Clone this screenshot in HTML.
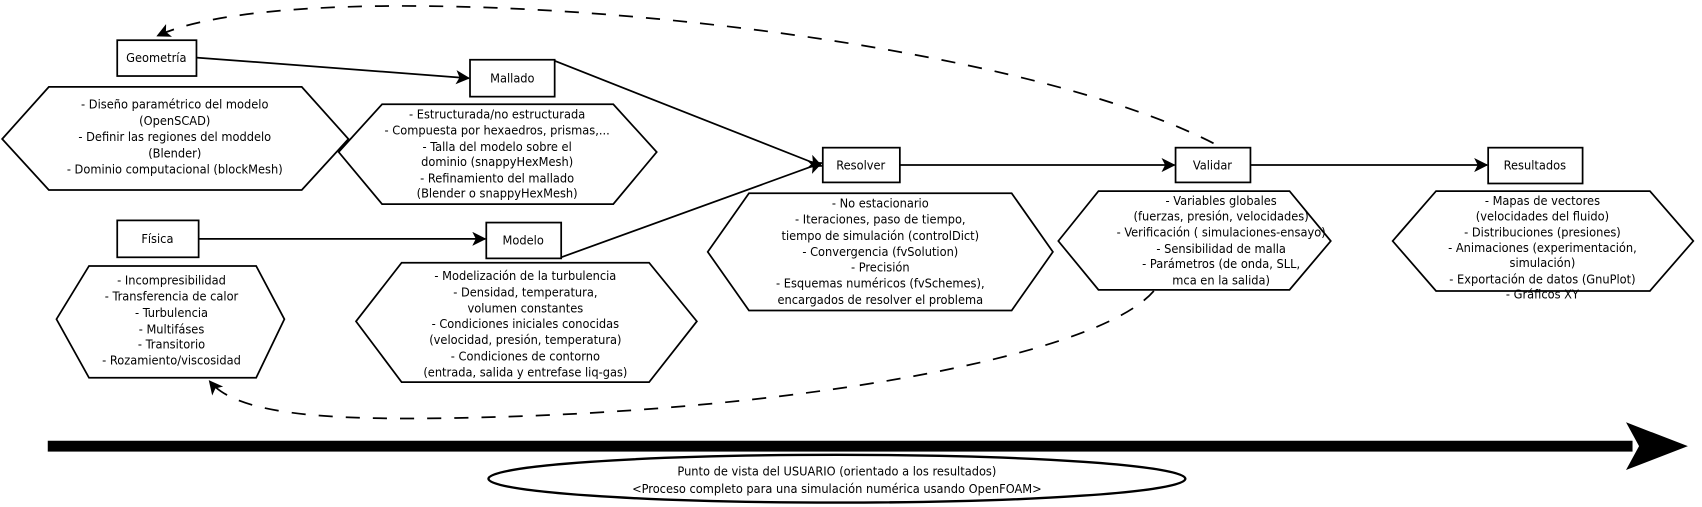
<!DOCTYPE html>
<html><head><meta charset="utf-8"><style>
html,body{margin:0;padding:0;background:#fff;}
svg{display:block;}
text{font-family:"DejaVu Sans Condensed","DejaVu Sans","Liberation Sans",sans-serif;font-size:11.7px;fill:#000;text-anchor:middle;}
</style></head><body>
<svg width="1702" height="507" viewBox="0 0 1568 467" xmlns="http://www.w3.org/2000/svg">
<defs>
<marker id="a" viewBox="0 0 12 12" refX="11" refY="6" markerWidth="13" markerHeight="13" markerUnits="userSpaceOnUse" orient="auto">
<path d="M0,0 L12,6 L0,12 L3,6 Z" fill="#000"/></marker>
</defs>
<rect width="1568" height="467" fill="#fff"/>
<g fill="none" stroke="#000" stroke-width="1.6">
<rect x="108" y="37" width="73" height="33"/>
<rect x="433" y="55" width="78" height="34"/>
<rect x="108" y="203" width="75" height="34"/>
<rect x="448" y="205" width="69" height="33"/>
<rect x="758" y="136" width="71" height="32"/>
<rect x="1083" y="136" width="69" height="32"/>
<rect x="1371" y="136" width="87" height="33"/>
<polygon points="2,128 45,80 278,80 321,128 278,175 45,175"/>
<polygon points="312,140 352,96 565,96 605,140 565,188 352,188"/>
<polygon points="52,294 82,245 236,245 262,294 236,348 82,348"/>
<polygon points="328,296 370,242 598,242 642,296 598,352 370,352"/>
<polygon points="652,232 690,178 932,178 970,232 932,286 690,286"/>
<polygon points="975,222 1012,176 1188,176 1226,222 1188,267 1012,267"/>
<polygon points="1283,222 1323,176 1520,176 1560,222 1520,268 1323,268"/>
<line x1="181" y1="53" x2="432" y2="72" marker-end="url(#a)"/>
<line x1="183" y1="220" x2="447" y2="220" marker-end="url(#a)"/>
<line x1="511" y1="56" x2="757" y2="153" marker-end="url(#a)"/>
<line x1="517" y1="237" x2="757" y2="150" marker-end="url(#a)"/>
<line x1="829" y1="152" x2="1082" y2="152" marker-end="url(#a)"/>
<line x1="1152" y1="152" x2="1370" y2="152" marker-end="url(#a)"/>
<path d="M1118,132 C 900,20 280,-30 145,33" stroke-dasharray="13,12" marker-end="url(#a)"/>
<path d="M1063,268 C 1010,330 720,380 420,385 C 280,388 215,378 193,351" stroke-dasharray="13,12" marker-end="url(#a)"/>
<ellipse cx="771" cy="441" rx="321" ry="22" stroke-width="2.2"/>
</g>
<rect x="44" y="406" width="1460" height="10" fill="#000"/>
<polygon points="1498,389 1555,411 1498,433 1510,411" fill="#000"/>
<text x="144" y="57">Geometría</text>
<text x="472" y="76">Mallado</text>
<text x="145" y="224">Física</text>
<text x="482" y="225">Modelo</text>
<text x="793" y="156">Resolver</text>
<text x="1117" y="156">Validar</text>
<text x="1414" y="156">Resultados</text>
<text x="161" y="100">- Diseño paramétrico del modelo</text>
<text x="161" y="115">(OpenSCAD)</text>
<text x="161" y="130">- Definir las regiones del moddelo</text>
<text x="161" y="145">(Blender)</text>
<text x="161" y="160">- Dominio computacional (blockMesh)</text>
<text x="458" y="109">- Estructurada/no estructurada</text>
<text x="458" y="124">- Compuesta por hexaedros, prismas,...</text>
<text x="458" y="139">- Talla del modelo sobre el</text>
<text x="458" y="153">dominio (snappyHexMesh)</text>
<text x="458" y="168">- Refinamiento del mallado</text>
<text x="458" y="182">(Blender o snappyHexMesh)</text>
<text x="158" y="262">- Incompresibilidad</text>
<text x="158" y="277">- Transferencia de calor</text>
<text x="158" y="292">- Turbulencia</text>
<text x="158" y="307">- Multifáses</text>
<text x="158" y="321">- Transitorio</text>
<text x="158" y="336">- Rozamiento/viscosidad</text>
<text x="484" y="258">- Modelización de la turbulencia</text>
<text x="484" y="273">- Densidad, temperatura,</text>
<text x="484" y="288">volumen constantes</text>
<text x="484" y="302">- Condiciones iniciales conocidas</text>
<text x="484" y="317">(velocidad, presión, temperatura)</text>
<text x="484" y="332">- Condiciones de contorno</text>
<text x="484" y="347">(entrada, salida y entrefase liq-gas)</text>
<text x="811" y="191">- No estacionario</text>
<text x="811" y="206">- Iteraciones, paso de tiempo,</text>
<text x="811" y="221">tiempo de simulación (controlDict)</text>
<text x="811" y="236">- Convergencia (fvSolution)</text>
<text x="811" y="250">- Precisión</text>
<text x="811" y="265">- Esquemas numéricos (fvSchemes),</text>
<text x="811" y="280">encargados de resolver el problema</text>
<text x="1125" y="189">- Variables globales</text>
<text x="1125" y="203">(fuerzas, presión, velocidades)</text>
<text x="1125" y="218">- Verificación ( simulaciones-ensayo)</text>
<text x="1125" y="233">- Sensibilidad de malla</text>
<text x="1125" y="247">- Parámetros (de onda, SLL,</text>
<text x="1125" y="262">mca en la salida)</text>
<text x="1421" y="189">- Mapas de vectores</text>
<text x="1421" y="203">(velocidades del fluido)</text>
<text x="1421" y="218">- Distribuciones (presiones)</text>
<text x="1421" y="232">- Animaciones (experimentación,</text>
<text x="1421" y="246">simulación)</text>
<text x="1421" y="261">- Exportación de datos (GnuPlot)</text>
<text x="1421" y="275">- Gráficos XY</text>
<text x="771" y="438">Punto de vista del USUARIO (orientado a los resultados)</text>
<text x="771" y="454">&lt;Proceso completo para una simulación numérica usando OpenFOAM&gt;</text>
</svg>
</body></html>
